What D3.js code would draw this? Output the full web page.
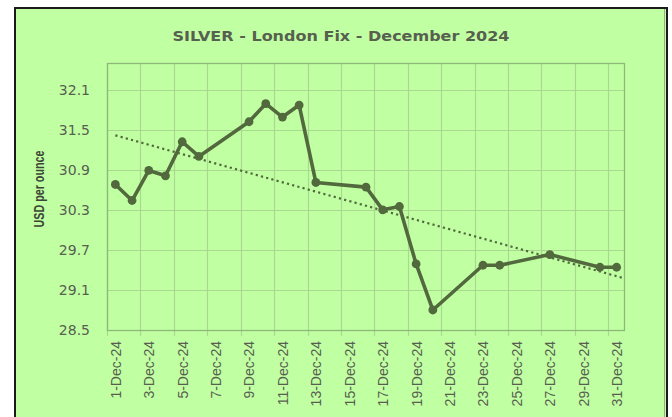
<!DOCTYPE html>
<html>
<head>
<meta charset="utf-8">
<script src="https://cdn.jsdelivr.net/npm/d3@7"></script>
<style>
  html, body { margin: 0; padding: 0; background: #ffffff; }
  svg { display: block; }
</style>
</head>
<body>
<svg id="chart" width="672" height="417"></svg>
<script>
// ---- data ----
const dates = ["2024-12-01","2024-12-02","2024-12-03","2024-12-04","2024-12-05","2024-12-06",
  "2024-12-09","2024-12-10","2024-12-11","2024-12-12","2024-12-13",
  "2024-12-16","2024-12-17","2024-12-18","2024-12-19","2024-12-20",
  "2024-12-23","2024-12-24","2024-12-27","2024-12-30","2024-12-31"];
const prices = [30.68,30.44,30.89,30.81,31.32,31.10,
  31.62,31.89,31.69,31.87,30.71,
  30.64,30.30,30.35,29.49,28.80,
  29.47,29.47,29.63,29.44,29.44];
const yTicks = [28.5,29.1,29.7,30.3,30.9,31.5,32.1];
const xTickLabels = ["1-Dec-24","3-Dec-24","5-Dec-24","7-Dec-24","9-Dec-24","11-Dec-24","13-Dec-24","15-Dec-24",
  "17-Dec-24","19-Dec-24","21-Dec-24","23-Dec-24","25-Dec-24","27-Dec-24","29-Dec-24","31-Dec-24"];
const titleText = "SILVER - London Fix - December 2024";
const yTitle = "USD per ounce";

// ---- layout ----
const W = 672, H = 417;
const plot = { left: 107, right: 625, top: 63, bottom: 330 };
const BG = "#c1ffa3", LINE = "#51693d", GRID = "#a9d98f", BORDER = "#8db878", TEXT = "#57604f";

const svg = d3.select("#chart");
const parse = d3.utcParse("%Y-%m-%d");
const dayMs = 864e5;
const pts = dates.map((d, i) => ({ date: parse(d), v: prices[i] }));

const x = d3.scaleUtc()
  .domain([parse("2024-12-01"), parse("2025-01-01")])
  .range([plot.left, plot.right]);
const y = d3.scaleLinear().domain([28.5, 32.5]).range([plot.bottom, plot.top]);
const mid = d => new Date(d.getTime() + dayMs / 2);

// chart area background + frame
svg.append("rect").attr("x", 15).attr("y", 8).attr("width", 652).attr("height", 420)
  .attr("fill", BG).attr("stroke", "#1a1a1a").attr("stroke-width", 2);
svg.append("line").attr("x1", 664.5).attr("x2", 664.5).attr("y1", 9).attr("y2", 417)
  .attr("stroke", "#9aa890").attr("stroke-width", 1);

// gridlines
const gridDates = xTickLabels.map((_, i) => new Date(parse("2024-12-01").getTime() + 2 * i * dayMs));
svg.append("g").selectAll("line.h").data(yTicks).join("line")
  .attr("x1", plot.left).attr("x2", plot.right)
  .attr("y1", d => Math.round(y(d)) + 0.5).attr("y2", d => Math.round(y(d)) + 0.5)
  .attr("stroke", GRID).attr("stroke-width", 1.2);
svg.append("g").selectAll("line.v").data(gridDates).join("line")
  .attr("x1", d => Math.round(x(d)) + 0.5).attr("x2", d => Math.round(x(d)) + 0.5)
  .attr("y1", plot.top).attr("y2", plot.bottom + 6)
  .attr("stroke", GRID).attr("stroke-width", 1.2);

// plot border
svg.append("rect").attr("x", plot.left + 0.5).attr("y", plot.top + 0.5)
  .attr("width", plot.right - plot.left - 1).attr("height", plot.bottom - plot.top)
  .attr("fill", "none").attr("stroke", BORDER).attr("stroke-width", 1.3);

// y axis labels
const yAxis = d3.axisLeft(y).tickValues(yTicks).tickFormat(d3.format(".1f")).tickSize(0).tickPadding(17);
const gy = svg.append("g").attr("transform", `translate(${plot.left},0)`).call(yAxis);
gy.select(".domain").remove();
gy.selectAll("text").attr("fill", TEXT).style("font-family", "DejaVu Sans, sans-serif").style("font-size", "14px");

// x axis labels (centered on each labelled day)
const xAxis = d3.axisBottom(x)
  .tickValues(gridDates.map(mid))
  .tickFormat((d, i) => xTickLabels[i]).tickSize(0);
const gx = svg.append("g").attr("transform", `translate(0,${plot.bottom})`).call(xAxis);
gx.select(".domain").remove();
gx.selectAll("text")
  .attr("fill", TEXT)
  .style("font-family", "Liberation Sans, sans-serif").style("font-size", "14px")
  .attr("text-anchor", "end").attr("transform", "rotate(-90)")
  .attr("x", -11).attr("y", 0).attr("dy", "0.35em");

// trendline (least squares on the data)
const xs = pts.map(p => (p.date - pts[0].date) / dayMs);
const reg = (() => {
  const mx = d3.mean(xs), my = d3.mean(prices);
  let sxy = 0, sxx = 0;
  xs.forEach((xv, i) => { sxy += (xv - mx) * (prices[i] - my); sxx += (xv - mx) ** 2; });
  const b = sxy / sxx; return { a: my - b * mx, b };
})();
const tStart = 0, tEnd = xs[xs.length - 1] + 0.4;
const trendPts = [tStart, tEnd].map(t => ({ date: new Date(pts[0].date.getTime() + t * dayMs), v: reg.a + reg.b * t }));
svg.append("path").datum(trendPts)
  .attr("d", d3.line().x(d => x(mid(d.date))).y(d => y(d.v)))
  .attr("fill", "none").attr("stroke", LINE).attr("stroke-width", 2.2)
  .attr("stroke-dasharray", "2.2,3.2");

// series line
svg.append("path").datum(pts)
  .attr("d", d3.line().x(d => x(mid(d.date))).y(d => y(d.v)))
  .attr("fill", "none").attr("stroke", LINE).attr("stroke-width", 3.6).attr("stroke-linejoin", "round");
svg.append("g").selectAll("circle").data(pts).join("circle")
  .attr("cx", d => x(mid(d.date))).attr("cy", d => y(d.v)).attr("r", 4.4).attr("fill", LINE);

// titles
svg.append("text").attr("x", 341).attr("y", 40.5).attr("text-anchor", "middle")
  .attr("fill", TEXT).style("font-family", "DejaVu Sans, sans-serif").style("font-weight", "bold").style("font-size", "14px")
  .attr("textLength", 337).attr("lengthAdjust", "spacingAndGlyphs")
  .text(titleText);
svg.append("text").attr("transform", "translate(39,189) rotate(-90)").attr("text-anchor", "middle")
  .attr("dy", "0.35em")
  .attr("fill", "#3c4435").style("font-family", "Liberation Sans, sans-serif").style("font-weight", "bold").style("font-size", "14px")
  .attr("textLength", 77).attr("lengthAdjust", "spacingAndGlyphs")
  .text(yTitle);
</script>
</body>
</html>
